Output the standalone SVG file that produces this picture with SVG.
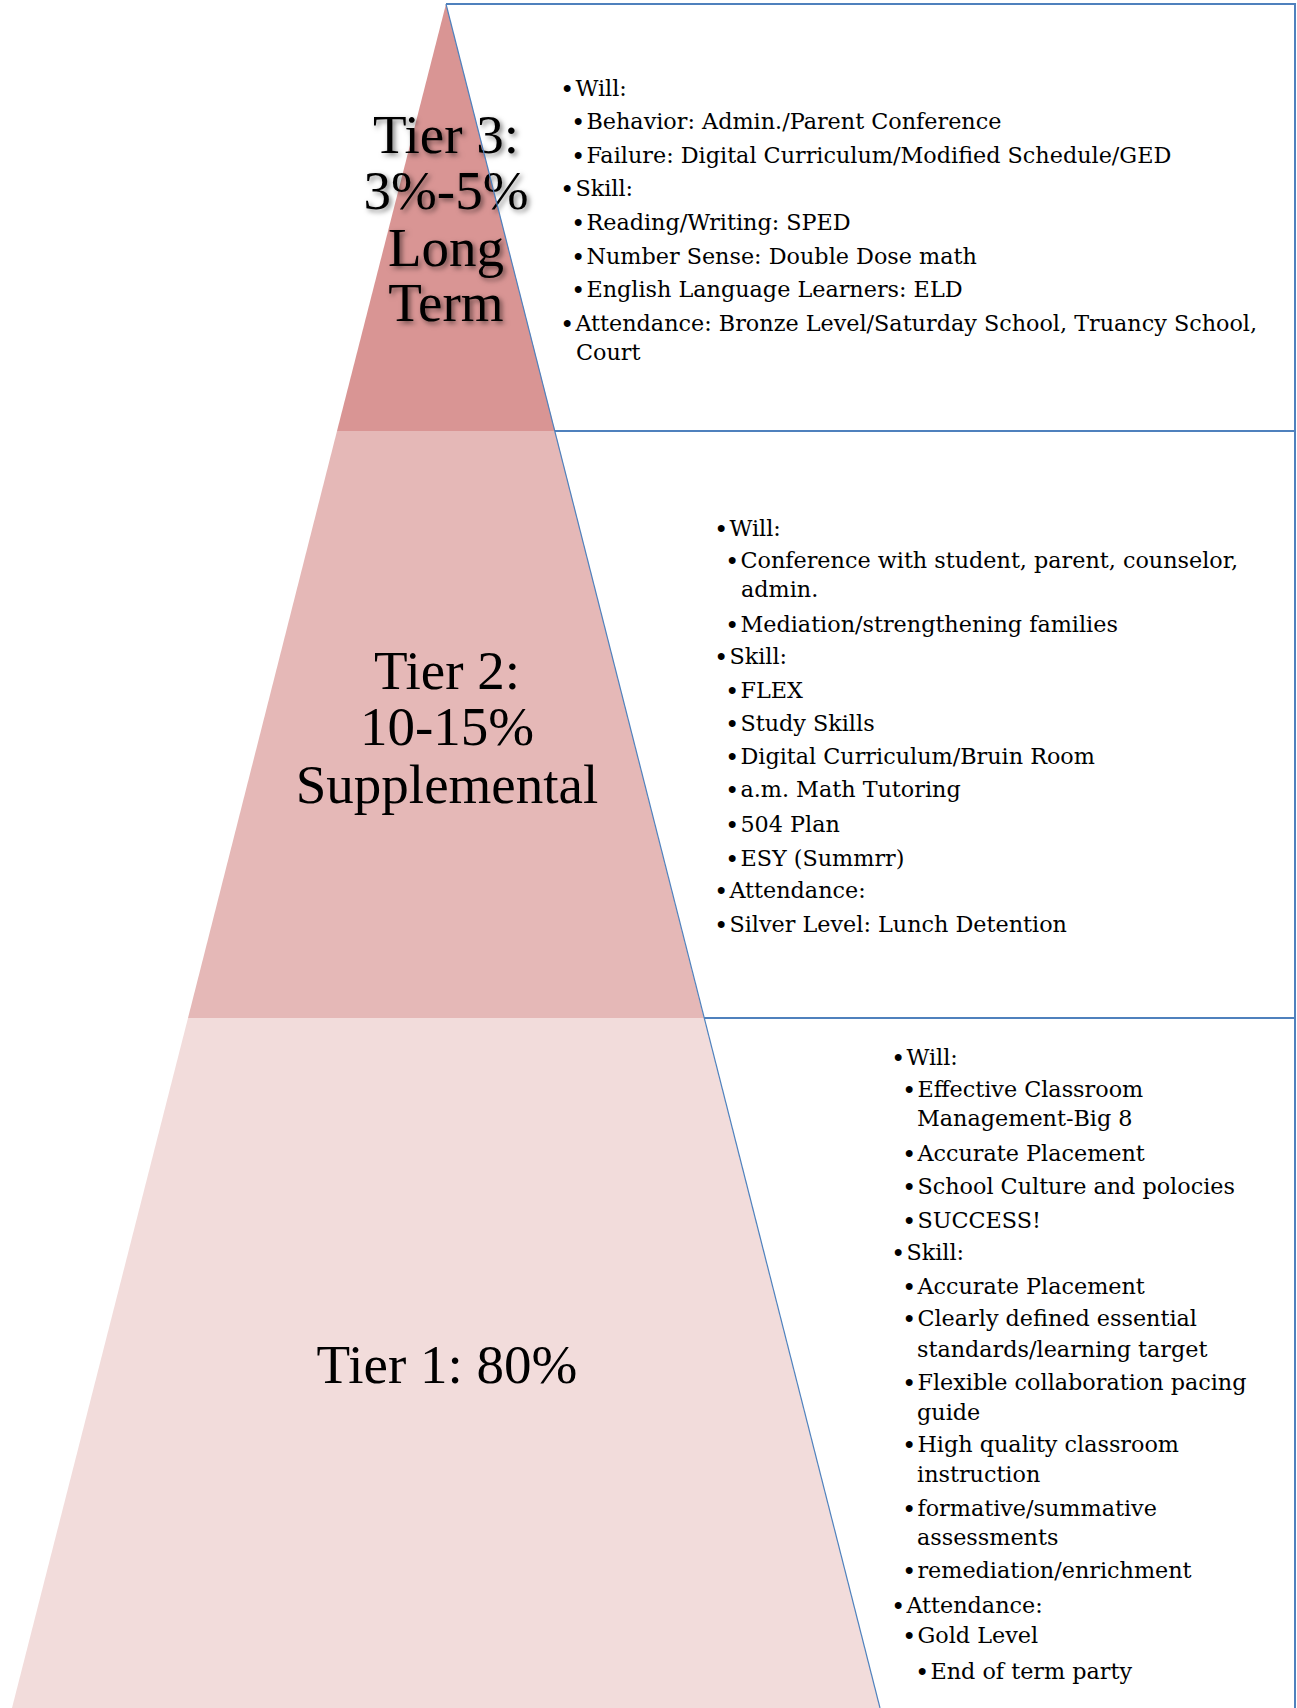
<svg xmlns="http://www.w3.org/2000/svg" width="1297" height="1708" viewBox="0 0 1297 1708">
<defs>
<filter id="shadow" x="-20%" y="-20%" width="140%" height="140%">
<feDropShadow dx="2.5" dy="2.5" stdDeviation="2.5" flood-color="#000" flood-opacity="0.5"/>
</filter>
</defs>
<style>
.label{font-family:"Liberation Serif","Times New Roman",serif;font-size:55px;fill:#000;text-anchor:middle}
.body{font-family:"DejaVu Serif","Liberation Serif",serif;font-size:22.3px;fill:#000}
.b{font-family:"Liberation Sans",Arial,sans-serif;font-weight:bold;font-size:24px;letter-spacing:4px}
.box{fill:none;stroke:#4f81bd;stroke-width:2}
.edge{fill:none;stroke:#4f81bd;stroke-width:1.2}
</style>
<rect x="0" y="0" width="1297" height="1708" fill="#fff"/>

<g id="tier3">
<polygon points="446,4 555,431 337,431" fill="#d99594"/>
<g class="label" filter="url(#shadow)">
<text x="446" y="153">Tier 3:</text>
<text x="446" y="209">3%-5%</text>
<text x="446" y="266">Long</text>
<text x="446" y="321">Term</text>
</g>
<g class="body">
<text x="563" y="96"><tspan class="b">•</tspan>Will:</text>
<text x="574" y="129"><tspan class="b">•</tspan>Behavior: Admin./Parent Conference</text>
<text x="574" y="163"><tspan class="b">•</tspan>Failure: Digital Curriculum/Modified Schedule/GED</text>
<text x="563" y="196"><tspan class="b">•</tspan>Skill:</text>
<text x="574" y="230"><tspan class="b">•</tspan>Reading/Writing: SPED</text>
<text x="574" y="264"><tspan class="b">•</tspan>Number Sense: Double Dose math</text>
<text x="574" y="297"><tspan class="b">•</tspan>English Language Learners: ELD</text>
<text x="563" y="331"><tspan class="b">•</tspan>Attendance: Bronze Level/Saturday School, Truancy School,</text>
<text x="576" y="360">Court</text>
</g>
</g>

<g id="tier2">
<polygon points="337,431 555,431 704,1018 188,1018" fill="#e5b8b7"/>
<g class="label">
<text x="447" y="689">Tier 2:</text>
<text x="447" y="745">10-15%</text>
<text x="447" y="803">Supplemental</text>
</g>
<g class="body">
<text x="717" y="536"><tspan class="b">•</tspan>Will:</text>
<text x="728" y="568"><tspan class="b">•</tspan>Conference with student, parent, counselor,</text>
<text x="741" y="597">admin.</text>
<text x="728" y="632"><tspan class="b">•</tspan>Mediation/strengthening families</text>
<text x="717" y="664"><tspan class="b">•</tspan>Skill:</text>
<text x="728" y="698"><tspan class="b">•</tspan>FLEX</text>
<text x="728" y="731"><tspan class="b">•</tspan>Study Skills</text>
<text x="728" y="764"><tspan class="b">•</tspan>Digital Curriculum/Bruin Room</text>
<text x="728" y="797"><tspan class="b">•</tspan>a.m. Math Tutoring</text>
<text x="728" y="832"><tspan class="b">•</tspan>504 Plan</text>
<text x="728" y="866"><tspan class="b">•</tspan>ESY (Summrr)</text>
<text x="717" y="898"><tspan class="b">•</tspan>Attendance:</text>
<text x="717" y="932"><tspan class="b">•</tspan>Silver Level: Lunch Detention</text>
</g>
</g>

<g id="tier1">
<polygon points="188,1018 704,1018 880,1708 12,1708" fill="#f2dcdb"/>
<text class="label" x="447" y="1383">Tier 1: 80%</text>
<g class="body">
<text x="894" y="1065"><tspan class="b">•</tspan>Will:</text>
<text x="905" y="1097"><tspan class="b">•</tspan>Effective Classroom</text>
<text x="917" y="1126">Management-Big 8</text>
<text x="905" y="1161"><tspan class="b">•</tspan>Accurate Placement</text>
<text x="905" y="1194"><tspan class="b">•</tspan>School Culture and polocies</text>
<text x="905" y="1228"><tspan class="b">•</tspan>SUCCESS!</text>
<text x="894" y="1260"><tspan class="b">•</tspan>Skill:</text>
<text x="905" y="1294"><tspan class="b">•</tspan>Accurate Placement</text>
<text x="905" y="1326"><tspan class="b">•</tspan>Clearly defined essential</text>
<text x="917" y="1357">standards/learning target</text>
<text x="905" y="1390"><tspan class="b">•</tspan>Flexible collaboration pacing</text>
<text x="917" y="1420">guide</text>
<text x="905" y="1452"><tspan class="b">•</tspan>High quality classroom</text>
<text x="917" y="1482">instruction</text>
<text x="905" y="1516"><tspan class="b">•</tspan>formative/summative</text>
<text x="917" y="1545">assessments</text>
<text x="905" y="1578"><tspan class="b">•</tspan>remediation/enrichment</text>
<text x="894" y="1613"><tspan class="b">•</tspan>Attendance:</text>
<text x="905" y="1643"><tspan class="b">•</tspan>Gold Level</text>
<text x="918" y="1679"><tspan class="b">•</tspan>End of term party</text>
</g>
</g>

<g id="connectors">
<polyline class="box" points="446,4 1295,4 1295,1708"/>
<line class="box" x1="555" y1="431" x2="1295" y2="431"/>
<line class="box" x1="704" y1="1018" x2="1295" y2="1018"/>
<line class="edge" x1="446" y1="4" x2="880" y2="1708"/>
</g>
</svg>
